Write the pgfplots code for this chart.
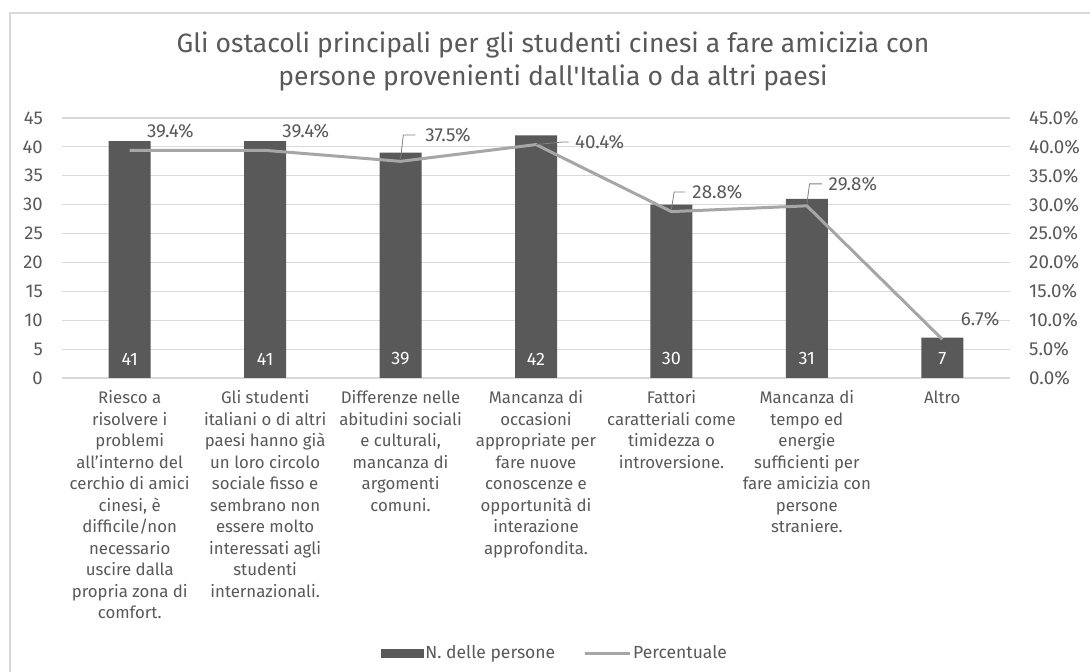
\documentclass[border=0pt]{standalone}
\usepackage{fontspec}
\setmainfont{Fira Sans}
\usepackage{pgfplots}
\pgfplotsset{compat=1.18}
\definecolor{barc}{HTML}{595959}
\definecolor{linec}{HTML}{A6A6A6}
\definecolor{gridc}{HTML}{D9D9D9}
\definecolor{txtc}{HTML}{595959}

\begin{document}
\begin{tikzpicture}[x=1pt,y=1pt]
\useasboundingbox (0,0) rectangle (1090,672);
\fill[white] (0,0) rectangle (1090,672);
\draw[gridc, line width=1.2pt] (10,0) -- (10,659) -- (1090,659);
\node[text=txtc, font=\fontsize{26.5}{33}\selectfont, align=center] at (553,610.5)
  {Gli ostacoli principali per gli studenti cinesi a fare amicizia con\\persone provenienti dall\textquotesingle Italia o da altri paesi};

% left axis: number of people
\begin{axis}[
  at={(62pt,294pt)}, anchor=south west,
  scale only axis, width=948pt, height=260pt,
  xmin=-0.5, xmax=6.5, ymin=0, ymax=45,
  ytick={0,5,...,45},
  xtick={0,...,6},
  xticklabels={
    {Riesco a\\risolvere i\\problemi\\all’interno del\\cerchio di amici\\cinesi, è\\difficile/non\\necessario\\uscire dalla\\propria zona di\\comfort.},
    {Gli studenti\\italiani o di altri\\paesi hanno già\\un loro circolo\\sociale fisso e\\sembrano non\\essere molto\\interessati agli\\studenti\\internazionali.},
    {Differenze nelle\\abitudini sociali\\e culturali,\\mancanza di\\argomenti\\comuni.},
    {Mancanza di\\occasioni\\appropriate per\\fare nuove\\conoscenze e\\opportunità di\\interazione\\approfondita.},
    {Fattori\\caratteriali come\\timidezza o\\introversione.},
    {Mancanza di\\tempo ed\\energie\\sufficienti per\\fare amicizia con\\persone\\straniere.},
    {Altro}},
  ymajorgrids, grid style={gridc, line width=1.2pt},
  axis line style={draw=none}, major tick length=0pt,
  tick label style={font=\fontsize{18.5}{21.5}\selectfont, text=txtc},
  /pgf/number format/assume math mode=true,
  xticklabel style={align=center, anchor=north, inner sep=0pt, yshift=-12.5pt,
    font=\fontsize{16.8}{21.5}\selectfont},
  yticklabel style={anchor=east, inner sep=0pt, xshift=-19pt},
  clip=false,
]
\addplot[ybar, bar width=42pt, fill=barc, draw=none]
  coordinates {(0,41) (1,41) (2,39) (3,42) (4,30) (5,31) (6,7)};
% value labels at the foot of the bars
\addplot[draw=none, mark=none, nodes near coords, point meta=explicit symbolic,
  every node near coord/.append style={anchor=center, text=white, font=\fontsize{18}{18}\selectfont}]
  coordinates {(0,3.3)[41] (1,3.3)[41] (2,3.3)[39] (3,3.3)[42] (4,3.3)[30] (5,3.3)[31] (6,3.3)[7]};
\end{axis}

% right axis: percentage
\begin{axis}[
  at={(62pt,294pt)}, anchor=south west,
  scale only axis, width=948pt, height=260pt,
  xmin=-0.5, xmax=6.5, ymin=0, ymax=45,
  ytick={0,5,...,45},
  axis y line*=right, axis x line=none,
  axis line style={draw=none}, major tick length=0pt,
  yticklabel={\pgfmathprintnumber[fixed,fixed zerofill,precision=1]{\tick}\%},
  tick label style={font=\fontsize{18.8}{21.5}\selectfont, text=txtc},
  /pgf/number format/assume math mode=true,
  yticklabel style={anchor=west, inner sep=0pt, xshift=19pt},
  clip=false,
  legend style={at={(0.52,-1.058)}, anchor=center, draw=none, fill=none,
    font=\fontsize{17.5}{17.5}\selectfont, text=txtc, legend columns=2,
    /tikz/every even column/.append style={column sep=26pt}},
]
\addlegendimage{legend image code/.code={\fill[barc] (0pt,-4pt) rectangle (42pt,4pt);}}
\addlegendentry{N. delle persone}
\addplot[linec, line width=3pt, mark=none,
  legend image code/.code={\draw[linec, line width=3pt] (0pt,0pt) -- (45pt,0pt);}]
  coordinates {(0,39.4) (1,39.4) (2,37.5) (3,40.4) (4,28.8) (5,29.8) (6,6.7)};
\addlegendentry{Percentuale}

\begin{scope}[every node/.style={text=txtc, font=\fontsize{18.8}{18.8}\selectfont}]
\node at (axis cs:0.30,42.75) {39.4\%};
\node at (axis cs:1.30,42.75) {39.4\%};
\node at (axis cs:2.35,42.06) {37.5\%};
\node at (axis cs:3.47,40.85) {40.4\%};
\node at (axis cs:4.34,32.2) {28.8\%};
\node at (axis cs:5.34,33.6) {29.8\%};
\node at (axis cs:6.28,10.2) {6.7\%};
\end{scope}
\draw[gray, line width=0.8pt] (axis cs:2.0,37.9) -- (axis cs:2.02,42.06) -- (axis cs:2.11,42.06);
\draw[gray, line width=0.8pt] (axis cs:3.0,40.4) -- (axis cs:3.2,40.85) -- (axis cs:3.24,40.85);
\draw[gray, line width=0.8pt] (axis cs:4.0,29.2) -- (axis cs:4.02,32.2) -- (axis cs:4.1,32.2);
\draw[gray, line width=0.8pt] (axis cs:5.0,30.2) -- (axis cs:5.02,33.6) -- (axis cs:5.11,33.6);
\end{axis}
\end{tikzpicture}
\end{document}
